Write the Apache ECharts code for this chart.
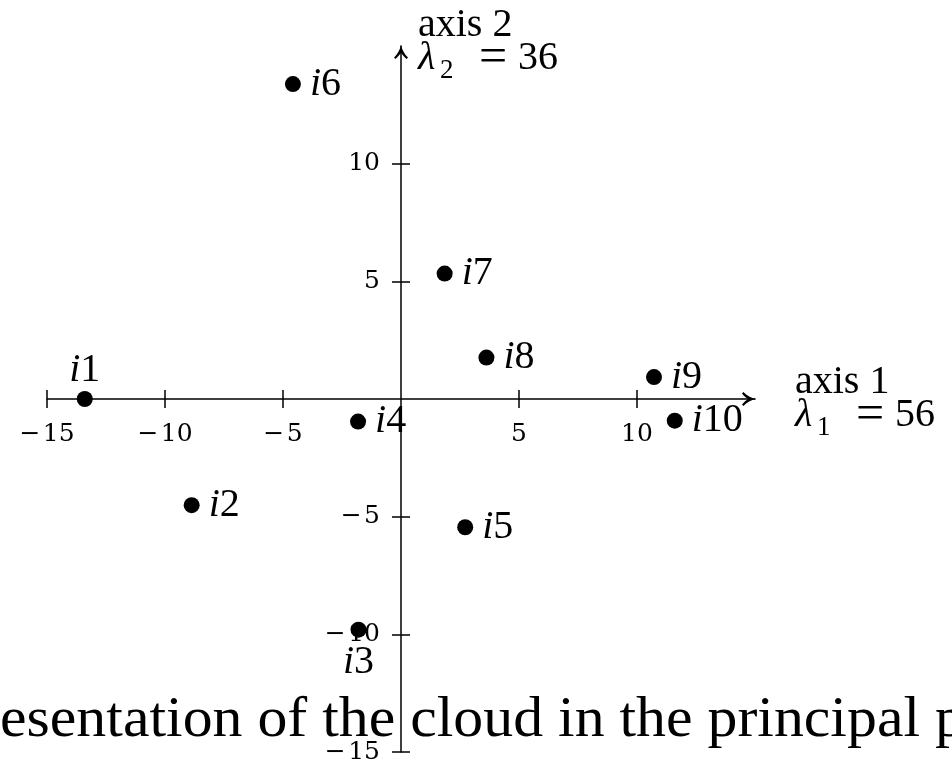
<!DOCTYPE html>
<html>
<head>
<meta charset="utf-8">
<script src="https://cdn.jsdelivr.net/npm/echarts@6/dist/echarts.min.js"></script>
<style>
  html, body { margin: 0; padding: 0; background: #fff; }
  #main { width: 952px; height: 764px; }
</style>
</head>
<body>
<div id="main"></div>
<script>
// Individuals projected on the first two principal axes
const names = ['1', '2', '3', '4', '5', '6', '7', '8', '9', '10'];
const axis1 = [-13.4, -8.87, -1.8, -1.82, 2.72, -4.58, 1.85, 3.62, 10.72, 11.6];
const axis2 = [0, -4.51, -9.8, -0.96, -5.45, 13.38, 5.33, 1.76, 0.93, -0.92];
const labelSide = ['top', 'right', 'bottom', 'right', 'right', 'right', 'right', 'right', 'right', 'right'];

const tickValues = [-15, -10, -5, 5, 10];
const axis1Title = ['axis 1', '1', '56'];
const axis2Title = ['axis 2', '2', '36'];
const caption = 'Representation of the cloud in the principal plane';

const SERIF = "'Liberation Serif', 'DejaVu Serif', serif";
const TICKFONT = "'DejaVu Serif', serif";

// plot frame: both axes span -15..15 and cross at the origin
const G = { left: 47, top: 46, width: 708, height: 706 };
const RANGE = [-15, 15];
const xShift = -G.height * (0 - RANGE[0]) / (RANGE[1] - RANGE[0]);  // lift x axis from bottom edge to y = 0
const yShift = -G.width * (0 - RANGE[0]) / (RANGE[1] - RANGE[0]);   // move y axis from left edge to x = 0

// open "->" arrow tip, pointing up in its own frame
const arrowPath = 'path://M50 0 C56 34 76 66 100 90 L90 100 C70 84 57 68 50 56 C43 68 30 84 10 100 L0 90 C24 66 44 34 50 0 Z';

function tickText(v) {
  return v < 0 ? '\u2212\u200a' + Math.abs(v) : String(v);
}

const titleRich = {
  t: { fontFamily: SERIF, fontSize: 40, lineHeight: 33, color: '#000' },
  l: { fontFamily: SERIF, fontSize: 40, fontStyle: 'italic', lineHeight: 33, width: 22, color: '#000' },
  s: { fontFamily: SERIF, fontSize: 27, lineHeight: 33, width: 28, verticalAlign: 'bottom', padding: [0, 0, -9, 0], color: '#000' },
  e: { fontFamily: SERIF, fontSize: 50, lineHeight: 33, width: 50, align: 'center', color: '#000' }
};
function titleText(t) {
  return '{t|' + t[0] + '}\n{l|\u03bb}{s|' + t[1] + '}{e|=}{t|' + t[2] + '}';
}

const chart = echarts.init(document.getElementById('main'), null, { renderer: 'canvas' });

const points = axis1.map((x, k) => ({
  value: [x, axis2[k]],
  name: 'i' + names[k],
  label: { position: labelSide[k], distance: labelSide[k] === 'top' ? 1 : (labelSide[k] === 'bottom' ? 5 : 9) }
}));

const lineStyle = { color: '#000', width: 1.5 };

function valueAxis(extra) {
  return Object.assign({
    type: 'value', min: RANGE[0], max: RANGE[1], interval: 5,
    splitLine: { show: false }
  }, extra);
}

// caption geometry from measured text width
const capSize = 57;
const ctx = document.createElement('canvas').getContext('2d');
ctx.font = capSize + 'px ' + SERIF;
const leadW = ctx.measureText('Repr').width;
const spanW = ctx.measureText('esentation of the cloud in the principal ').width;
const capScale = 935 / spanW;

chart.setOption({
  animation: false,
  backgroundColor: '#fff',
  grid: { left: G.left, top: G.top, width: G.width, height: G.height, containLabel: false, outerBoundsMode: 'none' },
  xAxis: [
    valueAxis({
      position: 'bottom',
      offset: xShift,
      name: titleText(axis1Title),
      nameLocation: 'end',
      nameGap: 40,
      nameTextStyle: { align: 'left', verticalAlign: 'middle', rich: titleRich },
      axisLine: { onZero: false, lineStyle: lineStyle, symbol: ['none', arrowPath], symbolSize: [15, 14], symbolOffset: [0, -6] },
      axisTick: { show: true, inside: false, length: 9, lineStyle: lineStyle, customValues: tickValues },
      axisLabel: { show: true, margin: 23, fontFamily: TICKFONT, fontSize: 25, color: '#000', customValues: tickValues, formatter: tickText }
    }),
    valueAxis({
      position: 'bottom',
      offset: xShift,
      axisLine: { show: false, onZero: false },
      axisTick: { show: true, inside: true, length: 9, lineStyle: lineStyle, customValues: tickValues },
      axisLabel: { show: false }
    })
  ],
  yAxis: [
    valueAxis({
      position: 'left',
      offset: yShift,
      name: titleText(axis2Title),
      nameLocation: 'end',
      nameGap: 37,
      nameTextStyle: { align: 'left', verticalAlign: 'top', padding: [0, 0, 0, 17], rich: titleRich },
      axisLine: { onZero: false, lineStyle: lineStyle, symbol: ['none', arrowPath], symbolSize: [15, 14], symbolOffset: [0, -6] },
      axisTick: { show: true, inside: false, length: 9, lineStyle: lineStyle, customValues: tickValues },
      axisLabel: { show: true, margin: 21, fontFamily: TICKFONT, fontSize: 25, color: '#000', customValues: tickValues, formatter: tickText }
    }),
    valueAxis({
      position: 'left',
      offset: yShift,
      axisLine: { show: false, onZero: false },
      axisTick: { show: true, inside: true, length: 9, lineStyle: lineStyle, customValues: tickValues },
      axisLabel: { show: false }
    })
  ],
  graphic: [{
    type: 'text',
    z: -1,
    left: -leadW * capScale,
    top: 693,
    scaleX: capScale,
    style: { text: caption, font: capSize + 'px ' + SERIF, fill: '#000' }
  }],
  series: [{
    type: 'scatter',
    xAxisIndex: 0,
    yAxisIndex: 0,
    symbol: 'circle',
    symbolSize: 16,
    itemStyle: { color: '#000', opacity: 1 },
    z: 5,
    data: points,
    label: {
      show: true,
      formatter: p => '{i|i}{n|' + p.name.slice(1) + '}',
      rich: {
        i: { fontFamily: SERIF, fontStyle: 'italic', fontSize: 40, color: '#000' },
        n: { fontFamily: SERIF, fontSize: 40, color: '#000' }
      }
    }
  }]
});
</script>
</body>
</html>
